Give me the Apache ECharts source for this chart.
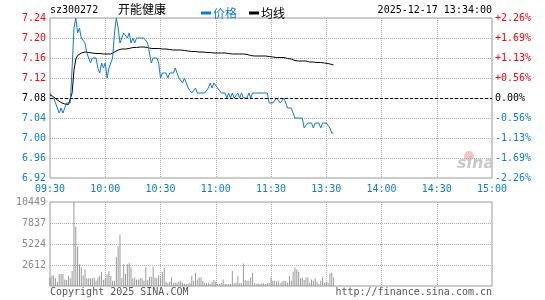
<!DOCTYPE html>
<html>
<head>
<meta charset="utf-8">
<script src="https://cdn.jsdelivr.net/npm/echarts@6/dist/echarts.min.js"></script>
<style>
  html, body { margin: 0; padding: 0; background: #fff; }
  #chart { width: 545px; height: 300px; }
</style>
</head>
<body>
<div id="chart"></div>
<script>
// x axis: minute index from 09:30 (0) to 15:00 (240), lunch break skipped
const timeLabels = ["09:30", "10:00", "10:30", "11:00", "11:30", "13:30", "14:00", "14:30", "15:00"];
const pctLabels = ["-2.26%", "-1.69%", "-1.13%", "-0.56%", "0.00%", "+0.56%", "+1.13%", "+1.69%", "+2.26%"];
const volLabels = ["2612", "5224", "7837", "10449"];
const prevClose = 7.08;

// per-minute price, 09:30 .. 13:34
const price = [
  7.09, 7.09, 7.08, 7.07, 7.06, 7.05, 7.06, 7.05, 7.05, 7.07, 7.07, 7.07,
  7.14, 7.22, 7.24, 7.21, 7.22, 7.20, 7.20, 7.19, 7.17, 7.16, 7.15, 7.16,
  7.16, 7.16, 7.14, 7.13, 7.15, 7.14, 7.15, 7.12, 7.14, 7.15, 7.16, 7.21,
  7.24, 7.22, 7.19, 7.20, 7.21, 7.21, 7.20, 7.21, 7.19, 7.20, 7.19, 7.20,
  7.20, 7.20, 7.20, 7.20, 7.20, 7.19, 7.17, 7.15, 7.16, 7.16, 7.16, 7.15,
  7.12, 7.13, 7.13, 7.13, 7.12, 7.13, 7.13, 7.13, 7.14, 7.13, 7.12, 7.12,
  7.11, 7.12, 7.11, 7.10, 7.10, 7.09, 7.09, 7.10, 7.09, 7.09, 7.09, 7.09,
  7.09, 7.09, 7.10, 7.11, 7.10, 7.11, 7.11, 7.10, 7.10, 7.09, 7.09, 7.09,
  7.08, 7.09, 7.08, 7.09, 7.08, 7.08, 7.09, 7.08, 7.09, 7.08, 7.08, 7.08,
  7.09, 7.08, 7.09, 7.09, 7.09, 7.09, 7.09, 7.09, 7.09, 7.09, 7.09, 7.07,
  7.07, 7.07, 7.07, 7.08, 7.08, 7.07, 7.07, 7.08, 7.08, 7.06, 7.06, 7.06,
  7.05, 7.04, 7.04, 7.04, 7.04, 7.04, 7.02, 7.02, 7.03, 7.03, 7.03, 7.02,
  7.03, 7.03, 7.03, 7.02, 7.03, 7.03, 7.03, 7.03, 7.02, 7.01, 7.01
];

// average price line
const avgPrice = [
  7.086, 7.085, 7.082, 7.079, 7.076, 7.073, 7.071, 7.069, 7.068, 7.068, 7.067, 7.068,
  7.090, 7.135, 7.158, 7.165, 7.168, 7.170, 7.171, 7.172, 7.172, 7.171, 7.170, 7.170,
  7.170, 7.169, 7.169, 7.169, 7.168, 7.168, 7.168, 7.168, 7.168, 7.168, 7.169, 7.172,
  7.175, 7.176, 7.177, 7.178, 7.178, 7.178, 7.178, 7.179, 7.180, 7.181, 7.181, 7.181,
  7.182, 7.182, 7.182, 7.182, 7.181, 7.181, 7.180, 7.179, 7.179, 7.179, 7.179, 7.179,
  7.179, 7.178, 7.178, 7.178, 7.177, 7.177, 7.176, 7.176, 7.176, 7.176, 7.176, 7.176,
  7.176, 7.175, 7.175, 7.174, 7.174, 7.173, 7.173, 7.173, 7.173, 7.172, 7.172, 7.172,
  7.172, 7.171, 7.171, 7.171, 7.171, 7.170, 7.170, 7.170, 7.170, 7.170, 7.170, 7.170,
  7.169, 7.169, 7.169, 7.168, 7.168, 7.168, 7.168, 7.168, 7.168, 7.168, 7.167, 7.167,
  7.165, 7.165, 7.165, 7.164, 7.164, 7.164, 7.164, 7.164, 7.164, 7.164, 7.164, 7.163,
  7.162, 7.162, 7.161, 7.161, 7.161, 7.161, 7.161, 7.161, 7.160, 7.159, 7.158, 7.158,
  7.156, 7.155, 7.155, 7.154, 7.154, 7.154, 7.154, 7.154, 7.153, 7.152, 7.152, 7.152,
  7.151, 7.151, 7.151, 7.151, 7.151, 7.150, 7.150, 7.149, 7.148, 7.147, 7.146
];

// per-minute volume
const volume = [
  1070, 1230, 1350, 950, 500, 1480, 1480, 1480, 820, 740, 1230, 950,
  1880, 10449, 7370, 4920, 2700, 2300, 1300, 2050, 950, 950, 950, 950,
  1070, 650, 1070, 1270, 1760, 740, 950, 1440, 1880, 1230, 650, 650,
  3600, 4920, 6390, 950, 2700, 1480, 2700, 2870, 2300, 950, 1070, 820,
  820, 950, 950, 650, 2300, 740, 1150, 1150, 2380, 1070, 950, 1350,
  1070, 1760, 2300, 530, 410, 530, 1070, 410, 410, 410, 530, 650,
  410, 250, 250, 250, 410, 1230, 650, 1640, 820, 1070, 1070, 650,
  410, 330, 410, 250, 530, 740, 530, 250, 250, 410, 820, 250,
  250, 250, 250, 1880, 330, 410, 1230, 330, 330, 2790, 740, 650,
  650, 1070, 1640, 330, 250, 330, 250, 330, 330, 250, 330, 410,
  1070, 650, 650, 530, 650, 330, 530, 650, 650, 410, 1230, 650,
  1760, 2300, 2050, 1760, 950, 1070, 740, 1070, 1070, 410, 820, 650,
  950, 530, 250, 650, 1070, 410, 530, 410, 1560, 1640, 1070
];

const MONO = '"DejaVu Sans Mono", monospace';
const CJK = '"Noto Sans CJK SC", sans-serif';
const BLUE = "#0c7bd0";
const RED = "#ff0000";
const GRID_LINE = { show: true, showMinLine: false, showMaxLine: false, lineStyle: { color: "#aaa", type: [1, 1], width: 1 } };

const chart = echarts.init(document.getElementById("chart"));

chart.setOption({
  animation: false,
  textStyle: { fontFamily: MONO },
  grid: [
    { left: 50, top: 18, width: 442, height: 160, show: true, borderColor: "#999", borderWidth: 1 },
    { left: 50, top: 202, width: 442, height: 84, show: true, borderColor: "#999", borderWidth: 1 },
  ],
  legend: {
    left: 196,
    top: 2,
    icon: "rect",
    itemWidth: 10,
    itemHeight: 3,
    itemGap: 12,
    textStyle: { fontFamily: CJK, fontSize: 12, padding: [0, 0, 0, -3] },
    data: [
      { name: "价格", textStyle: { color: BLUE } },
      { name: "均线", textStyle: { color: "#000" } },
    ],
  },
  xAxis: [
    {
      type: "value", gridIndex: 0, min: 0, max: 240, interval: 30,
      axisLine: { show: false }, axisTick: { show: false },
      axisLabel: { color: BLUE, fontSize: 10, fontFamily: MONO, margin: 6, formatter: (v, i) => timeLabels[i] },
      splitLine: GRID_LINE,
    },
    {
      type: "value", gridIndex: 1, min: 0, max: 240, interval: 30,
      axisLine: { show: false }, axisTick: { show: false }, axisLabel: { show: false },
      splitLine: GRID_LINE,
    },
  ],
  yAxis: [
    {
      type: "value", gridIndex: 0, min: 6.92, max: 7.24, interval: 0.04, position: "left",
      axisLine: { show: false }, axisTick: { show: false },
      axisLabel: {
        fontSize: 10, fontFamily: MONO, margin: 4,
        formatter: (v) => v.toFixed(2),
        color: (v) => (Math.abs(v - prevClose) < 0.001 ? "#000" : v > prevClose ? RED : BLUE),
      },
      splitLine: GRID_LINE,
    },
    {
      type: "value", gridIndex: 0, min: 6.92, max: 7.24, interval: 0.04, position: "right",
      axisLine: { show: false }, axisTick: { show: false },
      axisLabel: {
        fontSize: 10, fontFamily: MONO, margin: 3,
        formatter: (v, i) => pctLabels[i],
        color: (v, i) => (i === 4 ? "#000" : i > 4 ? RED : BLUE),
      },
      splitLine: { show: false },
    },
    {
      type: "value", gridIndex: 1, min: 0, max: 10449, interval: 2612.25,
      axisLine: { show: false }, axisTick: { show: false },
      axisLabel: {
        fontSize: 10, fontFamily: MONO, margin: 4, color: "#888",
        formatter: (v, i) => (i === 0 ? "" : volLabels[i - 1]),
      },
      splitLine: GRID_LINE,
    },
  ],
  series: [
    {
      name: "价格", type: "line", xAxisIndex: 0, yAxisIndex: 0,
      data: price.map((p, i) => [i, p]),
      symbol: "none",
      itemStyle: { color: BLUE },
      lineStyle: { color: BLUE, width: 1 },
      markLine: {
        silent: true,
        symbol: ["none", "none"],
        label: { show: false },
        lineStyle: { color: "#000", type: [3, 2], width: 1 },
        data: [{ yAxis: prevClose }],
      },
      z: 3,
    },
    {
      name: "均线", type: "line", xAxisIndex: 0, yAxisIndex: 0,
      data: avgPrice.map((p, i) => [i, p]),
      symbol: "none",
      itemStyle: { color: "#000" },
      lineStyle: { color: "#000", width: 1 },
      z: 2,
    },
    {
      name: "成交量", type: "bar", xAxisIndex: 1, yAxisIndex: 2,
      data: volume.map((v, i) => [i, v]),
      barWidth: 1,
      itemStyle: { color: "#999" },
    },
  ],
  graphic: [
    { type: "text", left: 50, top: 5, style: { text: "sz300272", font: '10px "DejaVu Sans Mono"', fill: "#000" } },
    { type: "text", left: 118, top: 3, style: { text: "开能健康", font: '12px "Noto Sans CJK SC"', fill: "#000" } },
    { type: "text", right: 53, top: 5, style: { text: "2025-12-17 13:34:00", font: '10px "DejaVu Sans Mono"', fill: "#000" } },
    { type: "text", left: 50, top: 287, style: { text: "Copyright 2025 SINA.COM", font: '10px "DejaVu Sans Mono"', fill: "#555" } },
    { type: "text", right: 53, top: 287, style: { text: "http://finance.sina.com.cn", font: '10px "DejaVu Sans Mono"', fill: "#555" } },
    // sina watermark
    { type: "circle", left: 464, top: 151, shape: { r: 5 }, style: { fill: "#f6c6c6" } },
    { type: "text", left: 457, top: 156, style: { text: "sina", font: 'italic bold 16px "DejaVu Sans"', fill: "#c8c8c8" } },
  ],
});
</script>
</body>
</html>
